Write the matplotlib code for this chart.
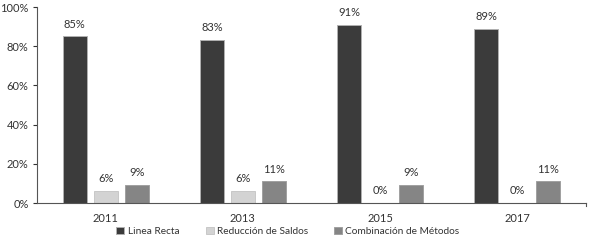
import matplotlib
matplotlib.use("Agg")
import matplotlib.pyplot as plt
import numpy as np

plt.rcParams['font.family'] = ['Lato', 'DejaVu Sans']

years = ['2011', '2013', '2015', '2017']
series_names = ['Linea Recta', 'Reducción de Saldos', 'Combinación de Métodos']
linea_recta = [85, 83, 91, 89]
reduccion = [6, 6, 0, 0]
combinacion = [9, 11, 9, 11]
colors = ['#3b3b3b', '#d3d3d3', '#858585']
edges = ['#b0b0b0', '#c8c8c8', '#a0a0a0']

fig = plt.figure(figsize=(5.89, 2.40), dpi=100)
ax = fig.add_axes([37/589, 37/240, 549/589, 196/240])

x = np.arange(len(years))
w = 0.175
off = 0.226
text_color = '#333333'
fs = 8
for i, (vals, c, ec, name) in enumerate(zip([linea_recta, reduccion, combinacion], colors, edges, series_names)):
    pos = x + (i - 1) * off
    ax.bar(pos, vals, width=w, color=c, edgecolor=ec, linewidth=0.7, label=name)
    for p, v in zip(pos, vals):
        ax.text(p, v + 3.5, f'{v}%', ha='center', va='bottom', fontsize=fs, color=text_color)

ax.set_xlim(-0.5, 3.5)
ax.set_ylim(0, 100)
ax.set_yticks(range(0, 101, 20))
ax.set_yticklabels([f'{v}%' for v in range(0, 101, 20)])
ax.set_xticks(x)
ax.set_xticklabels(years)
ax.tick_params(axis='x', length=0, labelsize=fs, colors=text_color, pad=7)
ax.tick_params(axis='y', length=3, labelsize=fs, colors=text_color, width=0.8, pad=3)
for s in ['top', 'right']:
    ax.spines[s].set_visible(False)
for s in ['left', 'bottom']:
    ax.spines[s].set_color('#555555')
    ax.spines[s].set_linewidth(0.8)
ax.plot([1, 1], [0, -0.015], transform=ax.transAxes, color='#555555', lw=0.8, clip_on=False)

leg = ax.legend(loc='center', bbox_to_anchor=(0.457, -0.145), ncol=3, frameon=False,
                fontsize=7.3, handlelength=0.8, handleheight=0.8, handletextpad=0.3,
                columnspacing=2.6, borderaxespad=0, borderpad=0)
for t in leg.get_texts():
    t.set_color(text_color)

fig.savefig('out.png', dpi=100)
